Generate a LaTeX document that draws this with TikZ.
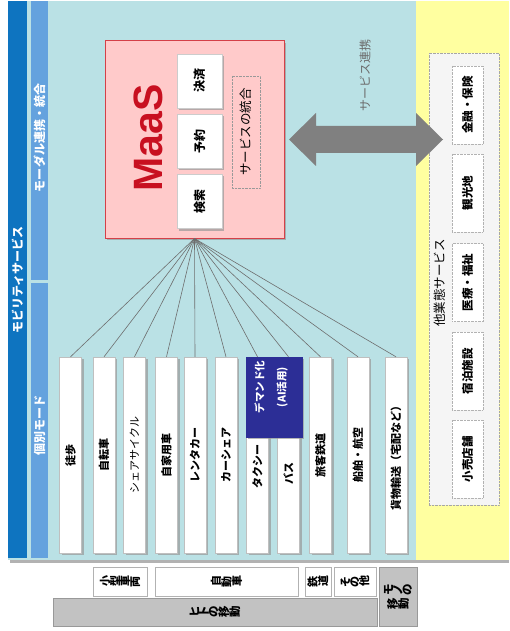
\documentclass[tikz,border=0pt]{standalone}
\usepackage{fontspec}
\usepackage{graphicx}
\setmainfont{Noto Sans CJK JP}
\newfontfamily\latinb{Liberation Sans}
\usetikzlibrary{shadows}
\definecolor{darkblue}{RGB}{14,116,192}
\definecolor{midblue}{RGB}{100,162,222}
\definecolor{cyanbg}{RGB}{186,225,229}
\definecolor{yelbg}{RGB}{255,255,160}
\definecolor{pinkbg}{RGB}{255,202,202}
\definecolor{maasred}{RGB}{200,16,32}
\definecolor{boxred}{RGB}{212,64,72}
\definecolor{navyblue}{RGB}{44,46,150}
\definecolor{arrowgray}{RGB}{128,128,128}
\definecolor{fangray}{RGB}{110,110,110}
\definecolor{bottomgray}{RGB}{194,194,194}
\newcommand\rg[1]{\rotatebox[origin=c]{90}{#1}}
\tikzset{
  shadowed/.style={drop shadow={shadow xshift=2pt,shadow yshift=-2pt,fill=black!40,opacity=.7}},
  jb/.style={font=\fontsize{11}{13}\selectfont\bfseries},
  jr/.style={font=\fontsize{11}{13}\selectfont},
  striptext/.style={rotate=90,text=white,font=\fontsize{12}{14}\selectfont\bfseries,inner sep=0pt},
  maasbox/.style={draw=boxred,line width=1pt,fill=pinkbg,minimum width=179pt,minimum height=197pt,shadowed},
  funcbox/.style={rotate=90,fill=white,draw=gray!40,minimum width=54pt,minimum height=45pt,inner sep=0pt,shadowed,font=\fontsize{12}{14}\selectfont\bfseries},
  dashbox/.style={rotate=90,draw=gray!80,densely dotted,minimum width=112pt,minimum height=28pt,inner sep=0pt,font=\fontsize{12.5}{14}\selectfont},
  svcbox/.style={rotate=90,fill=white,draw=gray!60,densely dotted,minimum width=78pt,minimum height=31pt,inner sep=0pt,font=\fontsize{11.5}{13}\selectfont\bfseries},
  modebar/.style={rotate=90,fill=white,draw=gray!50,minimum width=196pt,minimum height=22pt,inner sep=0pt,shadowed,jb},
  fan/.style={draw=fangray,line width=0.6pt},
  lblbox/.style={fill=white,draw=gray!60,inner sep=0pt,font=\fontsize{11}{12}\selectfont\bfseries},
  graybox/.style={fill=bottomgray,draw=gray!80,inner sep=0pt,font=\fontsize{11.5}{14}\selectfont\bfseries}
}
\begin{document}
\begin{tikzpicture}[x=1pt,y=-1pt]
\useasboundingbox (0,0) rectangle (509,631);
% background panels
\fill[black!30] (10,3) rectangle (509,563);
\fill[cyanbg] (8,1) rectangle (416,560);
\fill[yelbg] (416,1) rectangle (509,560);
\fill[darkblue] (8,1) rectangle (27,558);
\fill[midblue] (31,1) rectangle (48,280);
\fill[midblue] (31,283) rectangle (48,558);
\node[striptext] (mobility) at (17.5,280) {モビリティサービス};
\node[striptext] (modal) at (39.5,138) {モーダル連携・統合};
\node[striptext] (kobetsu) at (39.5,425) {個別モード};

% MaaS block
\node[maasbox] (maas) at (194.5,139.5) {};
\node[rotate=90,text=maasred,font=\latinb\bfseries\fontsize{41}{41}\selectfont,inner sep=0pt] (maastext) at (148,138) {MaaS};
\node[funcbox] (kessai) at (199.5,81) {決済};
\node[funcbox] (yoyaku) at (199.5,141.5) {予約};
\node[funcbox] (kensaku) at (199.5,201.5) {検索};
\node[dashbox] (togo) at (246,132) {サービスの統合};

% other services
\node[draw=gray!70,densely dotted,fill=gray!8,minimum width=70pt,minimum height=452pt] (other) at (464,279) {};
\node[rotate=90,font=\fontsize{12.5}{14}\selectfont,inner sep=0pt] (otherlbl) at (440,283) {他業態サービス};
\node[svcbox] (kinyu) at (467.5,105) {金融・保険};
\node[svcbox] (kanko) at (467.5,193) {観光地};
\node[svcbox] (iryo) at (467.5,282.5) {医療・福祉};
\node[svcbox] (shukuhaku) at (467.5,371) {宿泊施設};
\node[svcbox] (kouri) at (467.5,459) {小売店舗};

% service link arrow
\fill[arrowgray] (289,139.5) -- (316,113) -- (316,126) -- (416,126) -- (416,113)
  -- (443,139.5) -- (416,166) -- (416,153) -- (316,153) -- (316,166) -- cycle;
\node[rotate=90,text=gray!85!black,font=\fontsize{12}{14}\selectfont,inner sep=0pt] (renkei) at (365,76) {サービス連携};

% mode bars
\node[modebar] (toho) at (70.5,455) {徒歩};
\node[modebar] (jitensha) at (104,455) {自転車};
\node[modebar,jr] (share) at (134.5,455) {シェアサイクル};
\node[modebar] (jikayo) at (166.5,455) {自家用車};
\node[modebar] (rental) at (195,455) {レンタカー};
\node[modebar] (carshare) at (226,455) {カーシェア};
\node[modebar] (taxi) at (257.5,455) {};
\node[modebar] (bus) at (288.5,455) {};
\node[modebar] (tetsudo) at (320.5,455) {旅客鉄道};
\node[modebar] (senpaku) at (358,455) {船舶・航空};
\node[modebar] (kamotsu) at (396,455) {貨物輸送（宅配など）};
\node[fill=navyblue,draw=navyblue,minimum width=56pt,minimum height=80pt,shadowed] (demand) at (274,397) {};
\node[rotate=90,text=white,align=center,font=\fontsize{10.5}{22}\selectfont\bfseries,inner sep=0pt] (demandtxt) at (271,387) {デマンド化\\(AI活用)};
\node[rotate=90,jb,inner sep=0pt] (taxitxt) at (257.5,466) {タクシー};
\node[rotate=90,jb,inner sep=0pt] (bustxt) at (288.5,473) {バス};

% fan connectors
\foreach \m in {toho,jitensha,share,jikayo,rental,carshare,taxi,bus,tetsudo,senpaku,kamotsu}
  \draw[fan] (maas.south) -- (\m.east);

% bottom classification
\node[lblbox,minimum width=54pt,minimum height=29pt] (kogata) at (120,581.5) {\rg{小}\rg{型}\rg{車}\rg{両}};
\node[lblbox,minimum width=143pt,minimum height=29pt] (jidosha) at (226.5,581.5) {\rg{自}\rg{動}\rg{車}};
\node[lblbox,minimum width=26pt,minimum height=29pt] (tetsudolbl) at (318,581.5) {\rg{鉄}\rg{道}};
\node[lblbox,minimum width=42pt,minimum height=29pt] (sonota) at (355,581.5) {\rg{そ}\rg{の}\rg{他}};
\node[graybox,minimum width=324pt,minimum height=28pt] (hito) at (215,612) {\rg{ヒ}\rg{ト}\rg{の}\rg{移}\rg{動}};
\node[graybox,minimum width=38pt,minimum height=59pt,align=center] (mono) at (398,596.5) {\rg{モ}\rg{ノ}\rg{の}\\\rg{移}\rg{動}};
\end{tikzpicture}
\end{document}
